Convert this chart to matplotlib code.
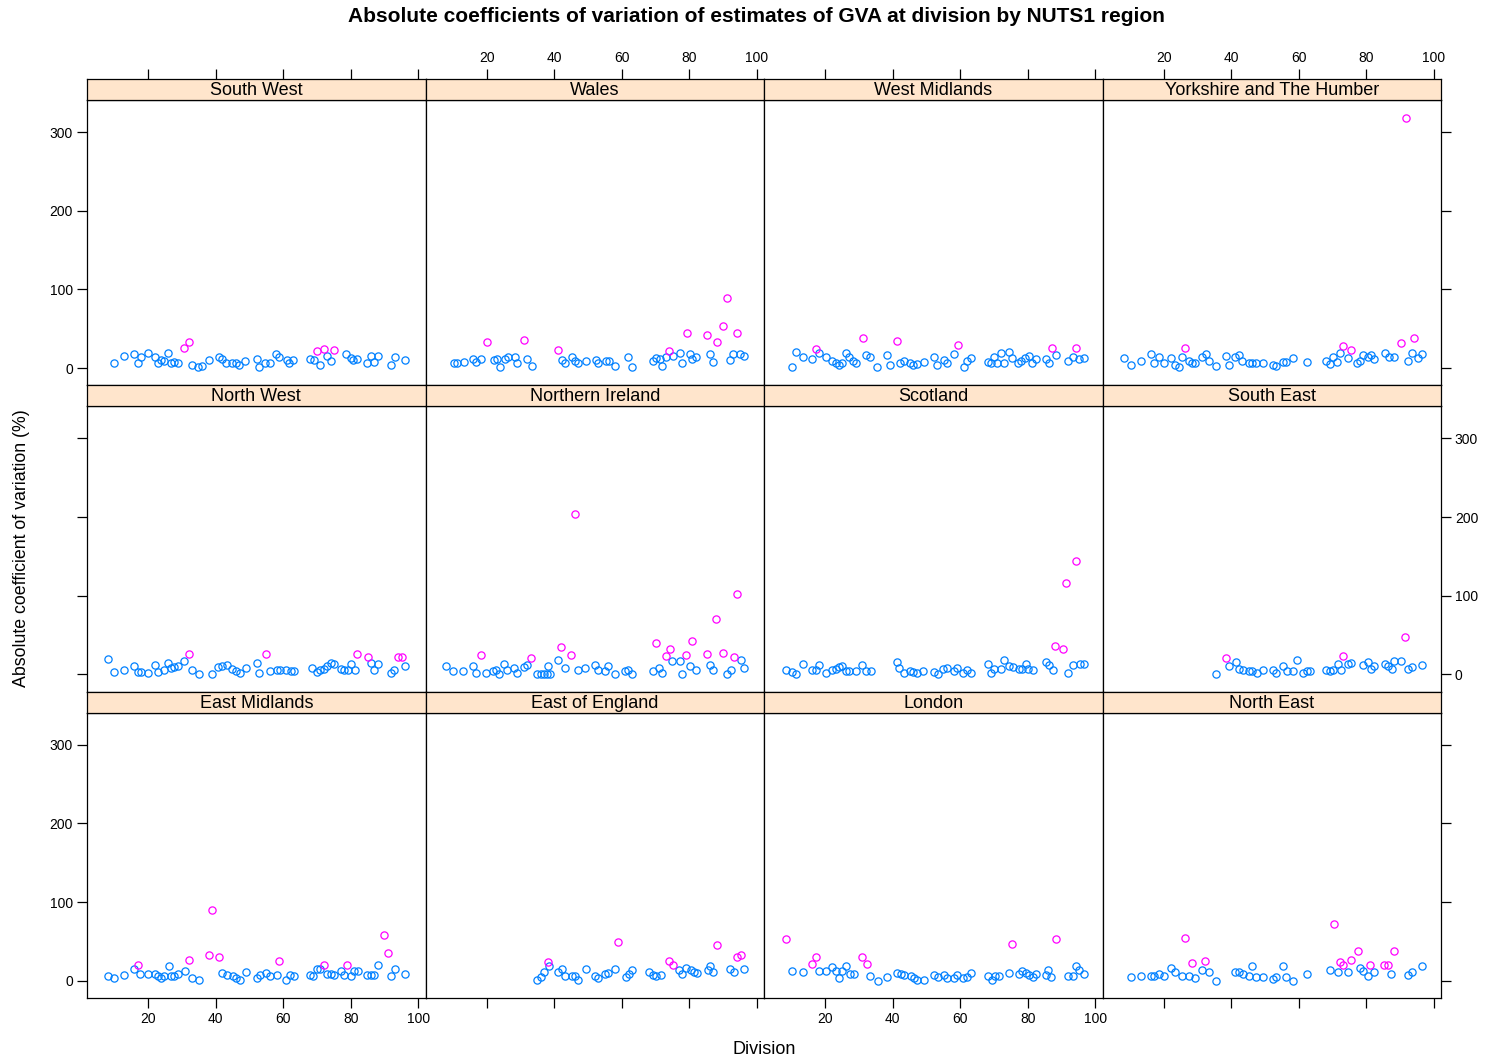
import matplotlib.pyplot as plt

plt.rcParams['font.family'] = ['Liberation Sans', 'DejaVu Sans']

# panel order, top row first (lattice draws bottom-up, so this is as it appears)
regions = ['South West', 'Wales', 'West Midlands', 'Yorkshire and The Humber',
           'North West', 'Northern Ireland', 'Scotland', 'South East',
           'East Midlands', 'East of England', 'London', 'North East']

# (division, absolute CV %)
south_west = [(9.8, 5.9), (13.0, 15.3), (15.9, 17.8), (16.9, 5.9), (17.9, 13.6), (19.9, 19.5),
              (21.9, 13.6), (22.8, 5.9), (23.8, 10.2), (24.8, 8.9), (26.0, 19.5), (26.8, 5.9),
              (27.8, 8.1), (28.8, 5.9), (30.7, 25.0), (32.0, 32.6), (33.0, 3.8), (34.7, 0.8),
              (36.0, 2.5), (37.9, 10.2), (40.9, 13.6), (41.9, 11.0), (42.9, 6.8), (44.9, 5.9),
              (45.9, 5.9), (46.8, 3.8), (48.8, 8.5), (52.1, 11.4), (52.8, 1.7), (54.7, 6.8),
              (56.0, 6.8), (57.8, 17.8), (58.7, 13.6), (61.0, 10.2), (61.7, 5.9), (62.9, 10.2),
              (67.9, 11.9), (69.1, 10.2), (69.9, 21.6), (71.0, 3.8), (72.0, 23.7), (72.8, 15.3),
              (74.0, 9.3), (75.0, 22.9), (78.7, 17.8), (79.9, 12.3), (80.7, 10.2), (81.9, 11.9),
              (84.9, 5.9), (85.9, 15.3), (86.8, 8.1), (88.0, 15.3), (91.8, 3.8), (93.0, 13.6),
              (95.9, 10.2)]

wales = [(10.3, 5.9), (11.3, 5.9), (13.3, 8.1), (15.9, 11.9), (16.9, 8.1), (18.2, 11.9),
         (20.0, 32.6), (22.1, 10.2), (23.1, 11.9), (24.1, 1.7), (25.4, 11.0), (26.4, 13.6),
         (28.4, 14.4), (29.1, 5.9), (31.0, 36.0), (32.0, 11.9), (33.3, 2.5), (41.2, 22.9),
         (42.2, 10.2), (43.2, 5.9), (45.2, 13.6), (46.1, 9.3), (47.1, 5.9), (49.3, 8.5),
         (52.3, 10.2), (53.1, 5.9), (55.2, 8.5), (56.2, 8.5), (58.0, 2.5), (61.9, 13.6),
         (63.1, 1.7), (69.1, 9.3), (70.1, 12.7), (71.2, 11.9), (72.0, 2.5), (73.0, 13.6),
         (74.0, 21.6), (75.2, 15.3), (77.2, 19.0), (77.9, 6.8), (79.2, 44.1), (80.1, 17.8),
         (80.9, 11.0), (82.1, 13.6), (85.2, 41.9), (86.0, 17.8), (87.0, 8.1), (88.1, 32.6),
         (90.0, 53.4), (91.0, 89.4), (92.0, 10.2), (93.0, 17.8), (94.2, 44.1), (94.9, 17.8),
         (96.2, 15.3)]

west_midlands = [(10.3, 1.7), (11.3, 19.8), (13.3, 13.6), (16.2, 11.0), (17.2, 23.7), (18.2, 19.6),
                 (20.2, 13.6), (22.1, 9.3), (23.1, 6.8), (24.1, 3.8), (25.1, 6.8), (26.1, 19.5),
                 (27.1, 13.6), (28.1, 9.3), (29.1, 5.9), (31.2, 38.6), (32.0, 16.5), (33.3, 14.4),
                 (35.3, 1.7), (38.4, 16.5), (39.2, 3.8), (41.2, 34.3), (42.2, 6.8), (43.2, 9.3),
                 (45.2, 6.8), (46.1, 3.8), (47.1, 5.1), (49.3, 8.1), (52.3, 13.6), (53.1, 3.8),
                 (55.2, 10.2), (56.0, 6.8), (58.2, 17.8), (59.2, 29.2), (61.2, 1.7), (62.1, 9.3),
                 (63.1, 12.3), (68.1, 8.1), (69.1, 6.8), (70.1, 13.6), (71.0, 6.8), (72.0, 19.5),
                 (73.0, 5.9), (74.5, 19.8), (75.2, 12.3), (77.2, 6.8), (78.1, 9.3), (79.1, 12.3),
                 (80.4, 15.3), (81.1, 5.9), (82.4, 11.0), (85.4, 11.0), (86.3, 6.8), (87.1, 25.0),
                 (88.3, 16.5), (92.0, 9.3), (93.3, 13.6), (94.2, 25.0), (95.2, 11.0), (96.5, 12.3)]

yorkshire = [(8.3, 12.3), (10.3, 3.8), (13.3, 9.3), (16.2, 17.8), (17.2, 6.8), (18.5, 13.6),
             (20.2, 5.9), (22.1, 12.3), (23.4, 3.8), (24.4, 1.7), (25.4, 14.4), (26.4, 25.0),
             (27.4, 9.3), (28.4, 5.9), (29.4, 5.9), (31.3, 13.6), (32.5, 17.8), (33.3, 9.3),
             (35.5, 2.5), (38.4, 15.3), (39.2, 3.8), (41.2, 13.6), (42.2, 16.5), (43.2, 9.3),
             (45.2, 6.8), (46.1, 5.9), (47.3, 5.9), (49.3, 6.8), (52.3, 3.8), (53.3, 2.5),
             (55.2, 8.1), (56.2, 8.1), (58.2, 12.3), (62.3, 8.1), (68.1, 9.3), (69.3, 5.1),
             (70.2, 13.6), (71.2, 8.1), (72.2, 19.5), (73.2, 28.0), (74.5, 12.3), (75.5, 22.9),
             (77.2, 6.8), (78.1, 9.3), (79.1, 16.5), (80.4, 13.6), (81.4, 16.5), (82.4, 11.0),
             (85.4, 18.6), (86.6, 13.6), (88.3, 14.4), (90.3, 32.2), (91.7, 318.0), (92.3, 9.3),
             (93.6, 19.5), (94.2, 38.6), (95.2, 12.3), (96.5, 17.8)]

north_west = [(8.0, 19.1), (10.0, 3.0), (13.0, 5.1), (15.9, 10.2), (16.9, 3.0), (17.9, 3.0),
              (19.9, 1.7), (21.9, 11.4), (22.8, 3.0), (24.8, 5.9), (25.8, 14.4), (26.8, 8.5),
              (27.8, 9.3), (28.8, 10.2), (30.7, 16.9), (32.0, 25.4), (33.0, 5.9), (35.0, 0.0),
              (38.9, 0.0), (40.6, 9.3), (41.9, 11.0), (43.2, 11.4), (44.9, 7.2), (45.9, 4.2),
              (47.1, 1.7), (49.1, 8.5), (52.1, 14.4), (52.9, 1.7), (55.0, 25.4), (56.0, 4.2),
              (58.0, 5.9), (59.0, 5.9), (60.9, 5.9), (62.3, 4.2), (63.3, 4.2), (68.6, 8.5),
              (69.9, 3.0), (70.8, 5.9), (72.0, 7.2), (73.0, 10.2), (74.0, 14.4), (75.0, 12.7),
              (77.2, 7.2), (78.1, 5.9), (79.1, 5.9), (80.1, 13.6), (81.1, 5.9), (81.7, 25.4),
              (85.1, 22.0), (86.0, 14.4), (86.8, 5.9), (88.0, 13.6), (91.8, 1.7), (92.8, 5.9),
              (94.0, 22.0), (95.0, 22.0), (95.9, 10.2)]

northern_ireland = [(8.0, 10.2), (10.0, 4.2), (13.0, 4.2), (15.9, 10.2), (16.9, 1.7), (18.2, 25.0),
                    (19.9, 1.7), (21.9, 4.2), (22.8, 5.9), (23.8, 0.0), (25.1, 12.7), (26.1, 5.1),
                    (28.1, 8.5), (29.1, 1.7), (31.0, 9.3), (32.0, 11.4), (33.2, 21.2), (35.0, 0.8),
                    (36.0, 0.8), (37.0, 0.8), (37.9, 0.8), (38.2, 10.2), (38.9, 0.0), (41.2, 17.8),
                    (42.1, 34.7), (43.2, 8.1), (45.1, 25.0), (46.1, 203.4), (47.1, 5.9), (49.1, 8.1),
                    (52.1, 12.3), (53.1, 5.1), (55.0, 4.2), (56.0, 10.2), (58.0, 0.8), (60.9, 4.2),
                    (61.9, 5.9), (63.1, 0.8), (69.1, 4.2), (70.0, 39.8), (71.0, 8.5), (72.0, 1.7),
                    (73.0, 22.9), (74.2, 32.6), (75.0, 16.9), (77.2, 16.9), (77.9, 0.8), (79.1, 25.0),
                    (80.1, 10.2), (80.9, 42.4), (82.1, 5.9), (85.2, 25.4), (86.0, 12.3), (87.0, 5.9),
                    (88.0, 70.8), (90.1, 26.7), (91.0, 0.8), (92.3, 5.9), (93.1, 22.0), (94.2, 102.5),
                    (95.2, 17.8), (96.2, 8.5)]

scotland = [(8.3, 5.9), (10.3, 3.0), (11.3, 0.0), (13.3, 13.6), (16.2, 5.9), (17.2, 5.9),
            (18.2, 11.4), (20.2, 1.7), (22.1, 5.9), (23.1, 7.2), (24.1, 9.3), (25.1, 10.2),
            (26.1, 4.2), (27.1, 4.2), (29.1, 4.2), (31.0, 11.4), (32.0, 4.2), (33.5, 4.2),
            (41.2, 15.7), (41.9, 8.5), (43.2, 1.7), (45.2, 4.2), (46.1, 3.0), (47.1, 1.7),
            (49.1, 4.2), (52.3, 3.0), (53.3, 0.0), (55.0, 7.2), (56.0, 8.5), (58.0, 4.2),
            (59.0, 8.5), (60.9, 1.7), (61.9, 5.9), (63.1, 1.7), (68.1, 13.6), (69.1, 1.7),
            (70.1, 7.2), (72.0, 7.2), (73.0, 17.8), (74.5, 10.2), (75.5, 9.3), (77.5, 7.2),
            (78.4, 7.2), (79.4, 13.6), (80.1, 7.2), (81.4, 5.9), (85.4, 15.7), (86.3, 11.4),
            (87.3, 5.9), (88.1, 35.6), (90.3, 32.6), (91.3, 116.1), (92.0, 1.7), (93.3, 11.4),
            (94.2, 144.1), (95.5, 12.7), (96.5, 13.6)]

south_east = [(35.5, 0.0), (38.4, 21.2), (39.2, 10.2), (41.4, 15.7), (42.4, 7.2), (43.4, 5.9),
              (45.4, 4.2), (46.3, 4.2), (47.5, 1.7), (49.5, 5.9), (52.5, 5.9), (53.3, 1.7),
              (55.4, 10.2), (56.4, 4.2), (58.4, 4.2), (59.4, 18.6), (61.2, 1.7), (62.3, 4.2),
              (63.3, 4.2), (68.1, 5.9), (69.3, 4.2), (70.2, 5.9), (71.5, 13.6), (72.5, 5.9),
              (73.2, 23.3), (74.5, 12.7), (75.5, 14.4), (79.1, 11.4), (80.4, 15.7), (81.4, 7.2),
              (82.4, 10.2), (85.4, 12.7), (86.3, 10.2), (87.6, 7.2), (88.3, 16.9), (90.3, 16.9),
              (91.3, 47.5), (92.3, 7.2), (93.6, 9.3), (96.5, 11.9)]

east_midlands = [(8.0, 5.5), (10.0, 3.4), (13.0, 6.8), (15.9, 15.3), (16.9, 20.3), (17.7, 8.5),
                 (19.9, 8.5), (21.9, 8.5), (22.8, 5.5), (23.8, 3.4), (24.8, 5.5), (26.1, 18.2),
                 (26.8, 5.5), (27.8, 5.5), (28.8, 8.5), (31.0, 12.7), (32.0, 26.7), (33.0, 3.4),
                 (35.0, 1.3), (37.9, 33.1), (38.9, 90.3), (41.1, 30.1), (41.9, 9.7), (43.2, 6.8),
                 (45.2, 5.5), (46.1, 3.4), (47.1, 1.3), (49.1, 11.0), (52.1, 3.4), (53.1, 6.8),
                 (55.0, 9.7), (56.0, 5.5), (58.0, 7.6), (58.7, 24.6), (60.9, 1.3), (61.9, 6.8),
                 (63.1, 5.5), (67.9, 7.6), (68.9, 5.5), (69.9, 15.3), (71.0, 15.3), (72.0, 20.3),
                 (72.8, 8.5), (74.0, 8.5), (75.0, 6.8), (77.0, 12.7), (77.9, 6.8), (78.9, 20.3),
                 (79.9, 5.5), (80.9, 12.7), (82.1, 12.7), (84.9, 7.6), (86.0, 6.8), (87.0, 7.6),
                 (88.0, 19.5), (89.8, 58.5), (91.0, 35.2), (91.8, 5.5), (93.0, 15.3), (95.9, 8.9)]

east_of_england = [(35.0, 1.3), (36.0, 4.7), (37.0, 10.6), (38.2, 23.3), (38.6, 19.0), (41.2, 10.6),
                   (42.2, 14.8), (43.2, 6.4), (45.2, 5.5), (46.1, 6.4), (47.1, 1.3), (49.3, 14.8),
                   (52.1, 5.5), (53.1, 3.4), (55.0, 8.9), (56.0, 9.7), (58.0, 14.8), (59.0, 48.7),
                   (61.2, 4.7), (62.2, 8.9), (63.1, 13.1), (68.1, 10.6), (69.3, 7.6), (70.2, 5.5),
                   (71.5, 7.6), (74.0, 24.6), (75.2, 20.3), (77.0, 14.0), (77.9, 8.9), (79.1, 16.1),
                   (80.4, 14.0), (81.4, 10.6), (82.4, 9.7), (85.4, 13.1), (86.0, 19.1), (87.0, 10.6),
                   (88.1, 45.8), (92.0, 14.8), (93.3, 10.6), (94.2, 30.1), (95.2, 32.2), (96.2, 14.8)]

london = [(8.3, 53.0), (10.3, 11.9), (13.3, 10.6), (16.2, 21.6), (17.2, 30.1), (18.2, 11.9),
          (20.2, 11.9), (22.1, 17.4), (23.1, 11.9), (24.1, 3.4), (25.1, 11.9), (26.1, 19.1),
          (27.4, 8.9), (28.4, 8.9), (31.0, 30.1), (32.3, 21.6), (33.3, 5.5), (35.5, 0.0),
          (38.4, 4.7), (41.4, 9.7), (42.4, 8.9), (43.4, 7.6), (45.4, 5.5), (46.3, 3.4),
          (47.3, 1.3), (49.3, 1.3), (52.3, 7.6), (53.3, 4.7), (55.2, 7.6), (56.0, 3.4),
          (58.0, 3.4), (59.0, 7.6), (60.9, 3.4), (62.1, 4.7), (63.1, 9.7), (68.1, 5.5),
          (69.3, 1.3), (70.2, 5.5), (71.5, 5.5), (74.5, 9.7), (75.2, 47.0), (77.5, 8.9),
          (78.4, 11.9), (79.4, 9.7), (80.4, 7.6), (81.4, 4.7), (82.4, 8.9), (85.4, 7.6),
          (86.0, 13.1), (87.0, 4.7), (88.3, 53.0), (92.0, 5.5), (93.3, 5.5), (94.2, 19.1),
          (95.2, 14.0), (96.5, 8.9)]

north_east = [(10.3, 4.7), (13.3, 6.4), (16.2, 6.4), (17.2, 6.4), (18.5, 8.9), (20.2, 6.4),
              (22.1, 16.1), (23.4, 10.6), (25.4, 6.4), (26.4, 54.2), (27.4, 6.4), (28.4, 22.5),
              (29.4, 3.4), (31.3, 14.0), (32.3, 24.6), (33.5, 10.6), (35.5, 0.0), (41.2, 10.6),
              (42.4, 10.6), (43.4, 8.9), (45.4, 6.4), (46.3, 18.2), (47.3, 4.7), (49.3, 4.7),
              (52.3, 2.1), (53.3, 4.7), (55.2, 18.2), (56.2, 4.7), (58.4, 0.0), (62.3, 8.9),
              (69.3, 14.0), (70.3, 72.0), (71.5, 10.6), (72.2, 23.7), (73.2, 20.3), (74.5, 10.6),
              (75.5, 25.8), (77.5, 37.3), (78.1, 16.1), (79.1, 11.9), (80.4, 6.4), (81.2, 20.3),
              (82.4, 10.6), (85.2, 20.3), (86.3, 20.3), (87.3, 8.9), (88.3, 37.3), (92.3, 7.6),
              (93.6, 10.6), (96.5, 18.2)]

panel_data = [south_west, wales, west_midlands, yorkshire,
              north_west, northern_ireland, scotland, south_east,
              east_midlands, east_of_england, london, north_east]

x_ticks = [20, 40, 60, 80, 100]
y_ticks = [0, 100, 200, 300]
threshold = 20   # CVs above this are shown in magenta

blue = '#0080ff'
magenta = '#ff00ff'
strip_col = '#ffe5cc'

W, H = 1485.0, 1061.0
fig = plt.figure(figsize=(W / 100, H / 100), dpi=100)

# layout in pixels
left, right, top, bottom = 87, 1441, 79, 998
strip_h = 21
col_w = (right - left) / 4.0
row_h = (bottom - top) / 3.0
panel_h = row_h - strip_h


def box(x0, y0, w, h):
    return [x0 / W, 1 - (y0 + h) / H, w / W, h / H]


for i, name in enumerate(regions):
    r, c = divmod(i, 4)
    x0 = left + c * col_w
    y_strip = top + r * row_h
    y_panel = y_strip + strip_h

    ax = fig.add_axes(box(x0, y_panel, col_w, panel_h))
    st = fig.add_axes(box(x0, y_strip, col_w, strip_h))

    pts = panel_data[i]
    lo = [p for p in pts if p[1] <= threshold]
    hi = [p for p in pts if p[1] > threshold]
    ax.plot([p[0] for p in lo], [p[1] for p in lo], 'o', ms=5.2, mfc='none',
            mec=blue, mew=0.9)
    ax.plot([p[0] for p in hi], [p[1] for p in hi], 'o', ms=5.2, mfc='none',
            mec=magenta, mew=0.9)
    ax.set_xlim(1.9, 102.1)
    ax.set_ylim(-22, 340.7)

    # strip
    st.set_facecolor(strip_col)
    st.set_xlim(1.9, 102.1)
    st.set_ylim(0, 1)
    st.set_yticks([])
    st.text(0.5, 0.45, name, transform=st.transAxes, ha='center', va='center',
            fontsize=13)

    for a in (ax, st):
        for s in a.spines.values():
            s.set_linewidth(0.9)
            s.set_color('black')
        a.tick_params(direction='out', length=7, width=0.9, labelsize=10, pad=3,
                      bottom=False, top=False, left=False, right=False,
                      labelbottom=False, labeltop=False, labelleft=False, labelright=False)

    # x ticks on outer edges, labels alternate between columns
    if r == 2:
        ax.set_xticks(x_ticks)
        ax.tick_params(bottom=True, labelbottom=(c % 2 == 0))
    else:
        ax.set_xticks([])
    if r == 0:
        st.set_xticks(x_ticks)
        st.tick_params(top=True, labeltop=(c % 2 == 1))
    else:
        st.set_xticks([])

    # y ticks on outer edges, labels alternate between rows
    if c == 0 or c == 3:
        ax.set_yticks(y_ticks)
        if c == 0:
            ax.tick_params(left=True, labelleft=(r != 1))
        else:
            ax.tick_params(right=True, labelright=(r == 1))
    else:
        ax.set_yticks([])

fig.text(756 / W, 1 - 17 / H,
         'Absolute coefficients of variation of estimates of GVA at division by NUTS1 region',
         ha='center', va='center', fontsize=15, fontweight='bold')
fig.text(764 / W, 1 - 1050 / H, 'Division', ha='center', va='center', fontsize=13)
fig.text(22 / W, 1 - 548 / H, 'Absolute coefficient of variation (%)', ha='center',
         va='center', rotation=90, fontsize=12.8)

fig.savefig('out.png', dpi=100)
